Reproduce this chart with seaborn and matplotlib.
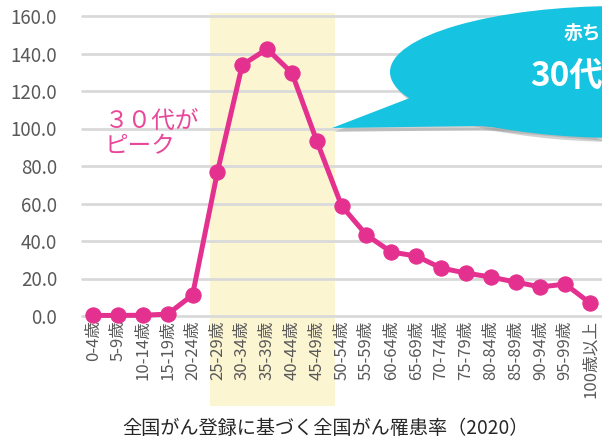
import matplotlib
matplotlib.use("Agg")
import matplotlib.pyplot as plt
from matplotlib.patches import Ellipse, Polygon
import pandas as pd
import seaborn as sns

# age groups and incidence rates
ages = ['0-4歳', '5-9歳', '10-14歳', '15-19歳', '20-24歳', '25-29歳', '30-34歳',
        '35-39歳', '40-44歳', '45-49歳', '50-54歳', '55-59歳', '60-64歳', '65-69歳',
        '70-74歳', '75-79歳', '80-84歳', '85-89歳', '90-94歳', '95-99歳', '100歳以上']
rates = [0.3, 0.3, 0.4, 1.0, 11.2, 76.8, 133.9, 142.4, 129.6, 93.3, 58.7,
         43.2, 34.1, 32.0, 25.6, 22.9, 20.8, 18.1, 15.5, 17.0, 6.9]
yticks = [0, 20, 40, 60, 80, 100, 120, 140, 160]

pink = '#E4318F'
sns.set_style('white')
plt.rcParams['font.family'] = ['Noto Sans CJK JP', 'DejaVu Sans']

df = pd.DataFrame({'age': ages, 'rate': rates})

fig = plt.figure(figsize=(6.02, 4.43), dpi=100)
ax = fig.add_axes([82 / 602, 1 - 316 / 443, 1 - 82 / 602, 300 / 443])

# highlighted 25-49 band
ax.axvspan(4.7, 9.75, ymin=-0.3, ymax=1.01, color='#FCF5D2', zorder=0, clip_on=False, lw=0)

sns.lineplot(data=df, x='age', y='rate', ax=ax, color=pink, lw=3.6, marker='o',
             markersize=11, markeredgecolor=pink, clip_on=False, zorder=3)

ax.set_ylim(0, 160)
ax.set_xlim(-0.45, 20.48)
ax.set_yticks(yticks)
ax.set_yticklabels([f'{v:.1f}' for v in yticks])
ax.set_xticks(range(len(ages)))
ax.set_xticklabels(ages, rotation=90)
for y in yticks:
    ax.axhline(y, color='#D9D9D9', lw=2, zorder=1, clip_on=False)
ax.tick_params(axis='both', length=0, colors='#595959')
ax.tick_params(axis='y', labelsize=13.5, pad=18)
ax.tick_params(axis='x', labelsize=12, pad=3)
ax.set_xlabel('')
ax.set_ylabel('')
sns.despine(ax=ax, left=True, bottom=True)

ax.text(0.45, 97, '３０代が\nピーク', color='#E8479A', fontsize=17, linespacing=1.15,
        va='center', ha='left')

# overlay in pixel coords for the speech bubble and caption
ov = fig.add_axes([0, 0, 1, 1], zorder=5)
ov.set_xlim(0, 602)
ov.set_ylim(443, 0)
ov.axis('off')
ov.patch.set_alpha(0)

shadow = '#9A9A9A'
tail = [(332, 128), (415, 96), (520, 100), (602, 137), (480, 126)]
ov.add_patch(Ellipse((623, 76), 460, 132, color=shadow, alpha=0.45, lw=0))
ov.add_patch(Polygon([(x + 2, y + 4) for x, y in tail], color=shadow, alpha=0.45, lw=0))
teal = '#16C3E0'
ov.add_patch(Ellipse((620, 72), 460, 132, color=teal, lw=0))
ov.add_patch(Polygon(tail, color=teal, lw=0))
ov.text(564, 33, '赤ち', color='white', fontsize=13.5, fontweight='bold', va='center')
ov.text(530, 76, '30代', color='white', fontsize=24, fontweight='bold', va='center')

ov.text(325, 428, '全国がん登録に基づく全国がん罹患率（2020）', color='#262626',
        fontsize=13.8, ha='center', va='center')

fig.savefig('out.png', dpi=100)
